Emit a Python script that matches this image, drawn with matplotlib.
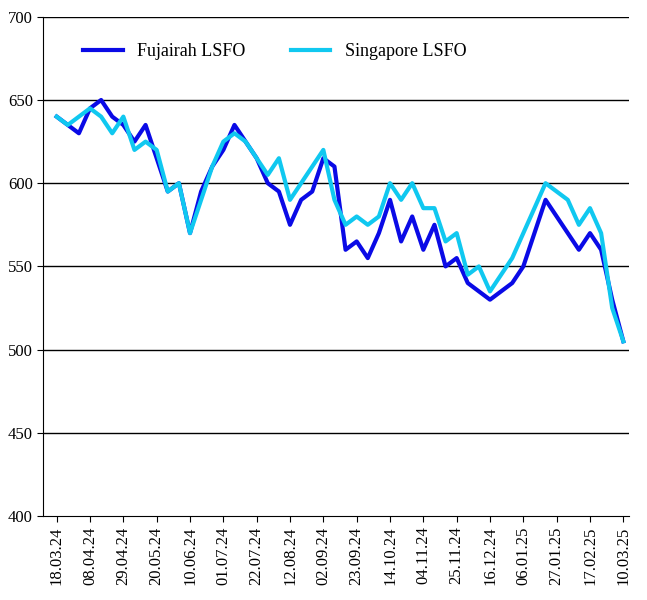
import datetime as dt

import matplotlib
matplotlib.use("Agg")
import matplotlib.pyplot as plt

plt.rcParams["font.family"] = ["Liberation Serif", "DejaVu Serif"]

# weekly series, starting 18.03.24
start = dt.date(2024, 3, 18)
fujairah = [640, 635, 630, 645, 650, 640, 635, 625, 635, 615,
            595, 600, 570, 595, 610, 620, 635, 625, 615, 600,
            595, 575, 590, 595, 615, 610, 560, 565, 555, 570,
            590, 565, 580, 560, 575, 550, 555, 540, 535, 530,
            535, 540, 550, 570, 590, 580, 570, 560, 570, 560,
            530, 505]
singapore = [640, 635, 640, 645, 640, 630, 640, 620, 625, 620,
             595, 600, 570, 590, 610, 625, 630, 625, 615, 605,
             615, 590, 600, 610, 620, 590, 575, 580, 575, 580,
             600, 590, 600, 585, 585, 565, 570, 545, 550, 535,
             545, 555, 570, 585, 600, 595, 590, 575, 585, 570,
             525, 505]
dates = [start + dt.timedelta(weeks=i) for i in range(len(fujairah))]
labels = [d.strftime("%d.%m.%y") for d in dates]
x = list(range(len(fujairah)))

fig = plt.figure(figsize=(6.47, 6.0), dpi=100)
ax = fig.add_axes([0.067, 0.14, 0.905, 0.832])

ax.plot(x, fujairah, color="#0a0ae6", lw=3, label="Fujairah LSFO")
ax.plot(x, singapore, color="#10c8f0", lw=3, label="Singapore LSFO")

ax.set_ylim(400, 700)
ax.set_xlim(-1.2, len(x) - 0.5)
ax.set_yticks(range(400, 701, 50))
for v in range(450, 701, 50):
    ax.axhline(v, color="black", lw=1, zorder=0)
ax.set_xticks(x[::3])
ax.set_xticklabels(labels[::3], rotation=90, fontsize=12)
ax.tick_params(axis="y", labelsize=12, direction="out", length=4)
ax.tick_params(axis="x", length=4)
ax.spines["top"].set_visible(False)
ax.spines["right"].set_visible(False)

ax.legend(loc="upper left", bbox_to_anchor=(0.04, 0.98), ncol=2, frameon=False,
          fontsize=13, handlelength=2.2, columnspacing=2.5)

fig.savefig("out.png", dpi=100)
